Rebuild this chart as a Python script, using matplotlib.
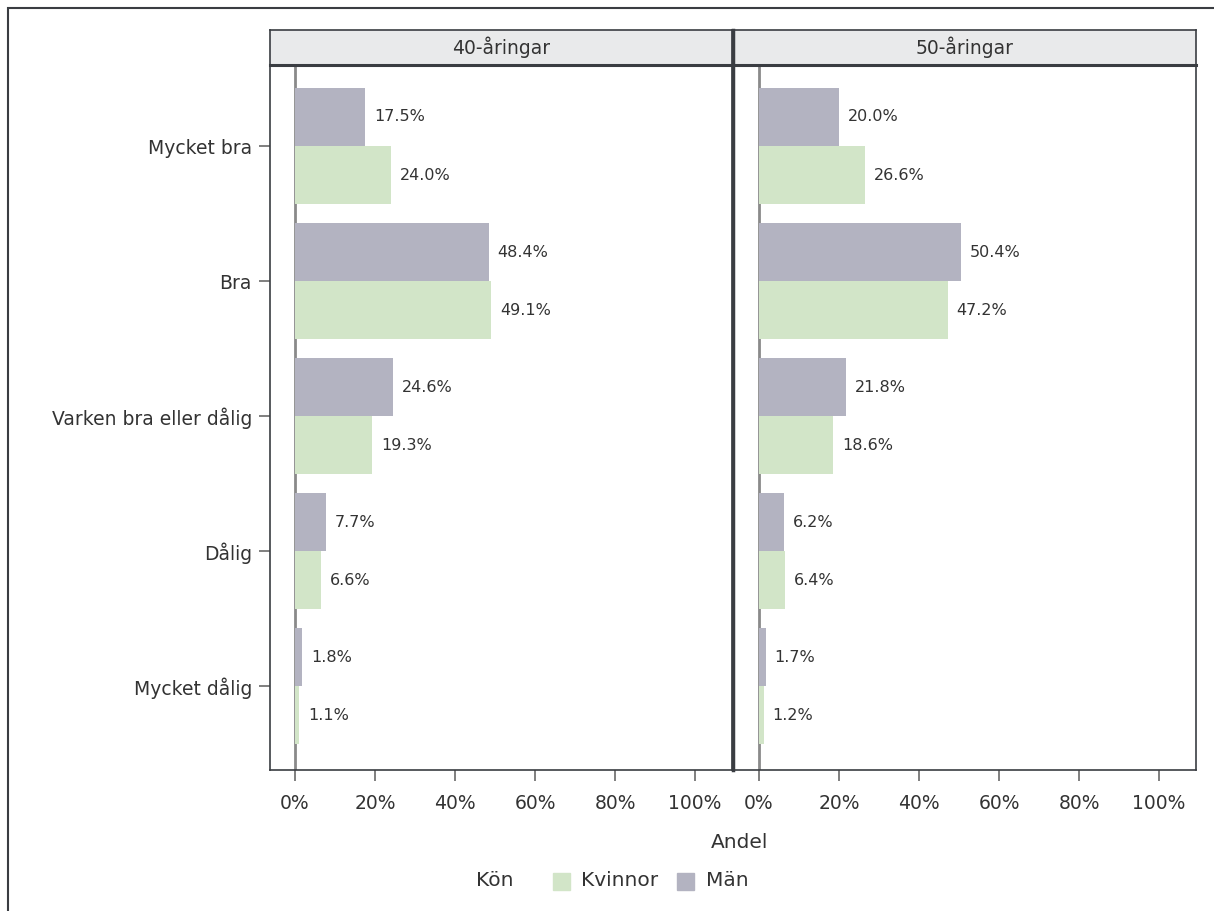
import matplotlib.pyplot as plt
from matplotlib.patches import Rectangle
from matplotlib.ticker import FuncFormatter

categories = ["Mycket bra", "Bra", "Varken bra eller dålig", "Dålig", "Mycket dålig"]
panels = ["40-åringar", "50-åringar"]
man_40 = [17.5, 48.4, 24.6, 7.7, 1.8]
kvinnor_40 = [24.0, 49.1, 19.3, 6.6, 1.1]
man_50 = [20.0, 50.4, 21.8, 6.2, 1.7]
kvinnor_50 = [26.6, 47.2, 18.6, 6.4, 1.2]

plt.rcParams['font.family'] = ['DejaVu Sans']
text_col = "#333333"
frame_col = "#3a3d42"
col_man = "#b3b3c1"
col_kv = "#d2e5c8"

W, H = 1214, 911
fig = plt.figure(figsize=(W / 100, H / 100), dpi=100)

# outer border
fig.patches.append(Rectangle((8 / W, -0.1), 1.2, 1 - 8 / H + 0.1, transform=fig.transFigure,
                             fill=False, edgecolor=frame_col, linewidth=1.5))

def fx(x):
    return x / W

def fy(y):
    return 1 - y / H

top, strip_bot, bot = 30, 65, 770
lefts = [270, 734]
width = 462
data = [(man_40, kvinnor_40), (man_50, kvinnor_50)]
h = 0.43

for i, (x0, title) in enumerate(zip(lefts, panels)):
    ax = fig.add_axes([fx(x0), fy(bot), width / W, (bot - strip_bot) / H])
    man, kv = data[i]
    y = list(range(len(categories)))
    ax.barh([v - h / 2 for v in y], man, height=h, color=col_man)
    ax.barh([v + h / 2 for v in y], kv, height=h, color=col_kv)
    for yy, m, k in zip(y, man, kv):
        ax.text(m + 2.2, yy - h / 2, f"{m:.1f}%", va="center", ha="left",
                fontsize=11.5, color=text_col)
        ax.text(k + 2.2, yy + h / 2, f"{k:.1f}%", va="center", ha="left",
                fontsize=11.5, color=text_col)
    ax.axvline(0, color="#8a8a8a", linewidth=2, zorder=0.5)
    ax.set_xlim(-6.25, 109.25)
    ax.set_ylim(4.62, -0.6)
    ax.set_xticks([0, 20, 40, 60, 80, 100])
    ax.xaxis.set_major_formatter(FuncFormatter(lambda v, p: f"{v:.0f}%"))
    ax.tick_params(axis="x", colors=text_col, labelsize=13.5, length=8, width=1.2,
                   color="#6a6a6a", pad=9)
    ax.set_yticks(y)
    if i == 0:
        ax.set_yticklabels(categories)
        ax.tick_params(axis="y", colors=text_col, labelsize=13.5, length=8, width=1.2,
                       color="#6a6a6a", pad=5)
    else:
        ax.tick_params(axis="y", left=False, labelleft=False)
    for s in ax.spines.values():
        s.set_color(frame_col)
        s.set_linewidth(1.2)
    # header strip
    sax = fig.add_axes([fx(x0), fy(strip_bot), width / W, (strip_bot - top) / H])
    sax.set_facecolor("#e9eaeb")
    sax.set_xticks([])
    sax.set_yticks([])
    for s in sax.spines.values():
        s.set_color(frame_col)
        s.set_linewidth(1.2)
    sax.spines["bottom"].set_linewidth(2.2)
    sax.text(0.5, 0.5, title, ha="center", va="center", fontsize=13.5,
             color=text_col, transform=sax.transAxes)

# thick divider between panels
fig.add_artist(plt.Line2D([fx(733), fx(733)], [fy(bot), fy(top)], transform=fig.transFigure,
                          color=frame_col, linewidth=2.5))

fig.text(fx(740), fy(843), "Andel", ha="center", va="center", fontsize=14.5, color=text_col)
fig.text(fx(495), fy(881), "Kön", ha="center", va="center", fontsize=14.5, color=text_col)
fig.patches.append(Rectangle((fx(553), fy(890)), 17 / W, 17 / H, transform=fig.transFigure,
                             color=col_kv))
fig.text(fx(581), fy(881), "Kvinnor", ha="left", va="center", fontsize=14.5, color=text_col)
fig.patches.append(Rectangle((fx(677), fy(890)), 17 / W, 17 / H, transform=fig.transFigure,
                             color=col_man))
fig.text(fx(706), fy(881), "Män", ha="left", va="center", fontsize=14.5, color=text_col)

fig.savefig("out.png", dpi=100)
